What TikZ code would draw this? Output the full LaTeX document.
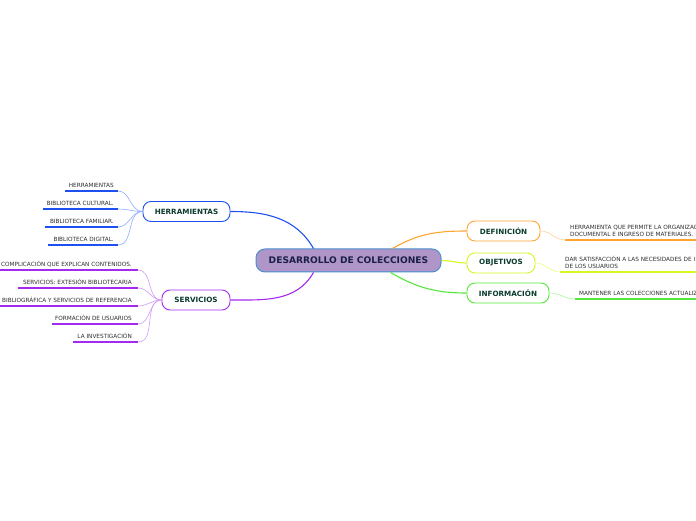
\documentclass[tikz,border=0pt]{standalone}
\usepackage{fontspec}
\setmainfont{DejaVu Sans}
\definecolor{cenfill}{HTML}{B096C8}
\definecolor{cenline}{HTML}{4A8FD0}
\definecolor{txtgreen}{HTML}{0B3B2E}
\definecolor{txtcen}{HTML}{1A1F4A}
\definecolor{leaftxt}{HTML}{2E2E2E}
\definecolor{cblue}{HTML}{1E50F0}
\definecolor{lblue}{HTML}{8FAAFF}
\definecolor{cpurple}{HTML}{A52AF0}
\definecolor{lpurple}{HTML}{D09AF5}
\definecolor{corange}{HTML}{FFA530}
\definecolor{lorange}{HTML}{FFD09A}
\definecolor{cyellow}{HTML}{D8F520}
\definecolor{lyellow}{HTML}{E8FF80}
\definecolor{cgreen}{HTML}{55E83A}
\definecolor{lgreen}{HTML}{A8F59A}
\begin{document}
\begin{tikzpicture}[x=1pt,y=1pt,
  topic/.style={draw, line width=0.9pt, fill=white, rounded corners=8pt, minimum height=20pt, inner sep=0pt,
    font=\fontsize{7.2}{8}\selectfont\bfseries, text=txtgreen},
  leaf/.style={inner sep=0pt, font=\fontsize{5.75}{7}\selectfont, text=leaftxt},
  mainlink/.style={line width=1.1pt},
  leaflink/.style={line width=0.6pt},
  uline/.style={line width=1.6pt}]
\useasboundingbox (0,0) rectangle (696,520);
\clip (0,0) rectangle (696,520);

% central
\node[draw=cenline, line width=1pt, fill=cenfill, rounded corners=9pt, minimum width=185pt, minimum height=23pt, inner sep=0pt,
  font=\fontsize{9.1}{10}\selectfont\bfseries, text=txtcen] (cen) at (348.5,259.5) {DESARROLLO DE COLECCIONES};

% topics
\node[topic, draw=cblue, minimum width=87pt] (herr) at (186.5,308.5) {HERRAMIENTAS};
\node[topic, draw=cpurple, minimum width=68pt] (serv) at (196,220) {SERVICIOS};
\node[topic, draw=corange, minimum width=73pt] (def) at (503.5,289) {DEFINICIÓN};
\node[topic, draw=cyellow, minimum width=68pt] (obj) at (501,257) {OBJETIVOS};
\node[topic, draw=cgreen, minimum width=82pt] (inf) at (508,227) {INFORMACIÓN};

% main links
\draw[mainlink, cblue] ([xshift=-35pt]cen.north) to[out=120,in=0] (herr.east);
\draw[mainlink, cpurple] ([xshift=-35pt]cen.south) to[out=240,in=0] (serv.east);
\draw[mainlink, corange] ([xshift=44pt]cen.north) to[out=30,in=180] (def.west);
\draw[mainlink, cyellow] (cen.east) to[out=0,in=180] (obj.west);
\draw[mainlink, cgreen] ([xshift=42pt]cen.south) to[out=-30,in=180] (inf.west);

% HERRAMIENTAS leaves
\node[leaf, anchor=east] (h1) at (114,335) {HERRAMIENTAS};
\node[leaf, anchor=east] (h2) at (114,317) {BIBLIOTECA CULTURAL.};
\node[leaf, anchor=east] (h3) at (114,299) {BIBLIOTECA FAMILIAR.};
\node[leaf, anchor=east] (h4) at (114,281) {BIBLIOTECA DIGITAL.};
\coordinate (h1a) at (65,329);  \coordinate (h1b) at (118,329);
\coordinate (h2a) at (43,311);  \coordinate (h2b) at (118,311);
\coordinate (h3a) at (45,293);  \coordinate (h3b) at (118,293);
\coordinate (h4a) at (48,275);  \coordinate (h4b) at (118,275);
\foreach \i in {1,2,3,4}{
  \draw[uline, cblue] (h\i a) -- (h\i b);
  \draw[leaflink, lblue] (herr.west) to[out=180,in=0] (h\i b);
}

% SERVICIOS leaves
\node[leaf, anchor=east] (s1) at (132,256) {COMPLICACIÓN QUE EXPLICAN CONTENIDOS.};
\node[leaf, anchor=east] (s2) at (132,238) {SERVICIOS: EXTESIÓN BIBLIOTECARIA};
\node[leaf, anchor=east] (s3) at (132,220) {BIBLIOGRÁFICA Y SERVICIOS DE REFERENCIA};
\node[leaf, anchor=east] (s4) at (132,202) {FORMACIÓN DE USUARIOS};
\node[leaf, anchor=east] (s5) at (132,184) {LA INVESTIGACIÓN};
\coordinate (s1a) at (0,250);   \coordinate (s1b) at (138,250);
\coordinate (s2a) at (18,232);  \coordinate (s2b) at (138,232);
\coordinate (s3a) at (0,214);   \coordinate (s3b) at (138,214);
\coordinate (s4a) at (52,196);  \coordinate (s4b) at (138,196);
\coordinate (s5a) at (73,178);  \coordinate (s5b) at (138,178);
\foreach \i in {1,2,3,4,5}{
  \draw[uline, cpurple] (s\i a) -- (s\i b);
  \draw[leaflink, lpurple] (serv.west) to[out=180,in=0] (s\i b);
}

% right leaves
\node[leaf, anchor=west, align=left] (d1) at (570,289.5) {HERRAMIENTA QUE PERMITE LA ORGANIZAC\\DOCUMENTAL E INGRESO DE MATERIALES.};
\coordinate (d1a) at (565,280); \coordinate (d1b) at (696,280);
\draw[uline, corange] (d1a) -- (d1b);
\draw[leaflink, lorange] (def.east) to[out=0,in=180] (d1a);

\node[leaf, anchor=west, align=left] (o1) at (565,258) {DAR SATISFACCIÓN A LAS NECESIDADES DE I\\DE LOS USUARIOS};
\coordinate (o1a) at (560,248); \coordinate (o1b) at (696,248);
\draw[uline, cyellow] (o1a) -- (o1b);
\draw[leaflink, lyellow] (obj.east) to[out=0,in=180] (o1a);

\node[leaf, anchor=west] (i1) at (579,227) {MANTENER LAS COLECCIONES ACTUALIZA};
\coordinate (i1a) at (575,221); \coordinate (i1b) at (696,221);
\draw[uline, cgreen] (i1a) -- (i1b);
\draw[leaflink, lgreen] (inf.east) to[out=0,in=180] (i1a);
\end{tikzpicture}
\end{document}
